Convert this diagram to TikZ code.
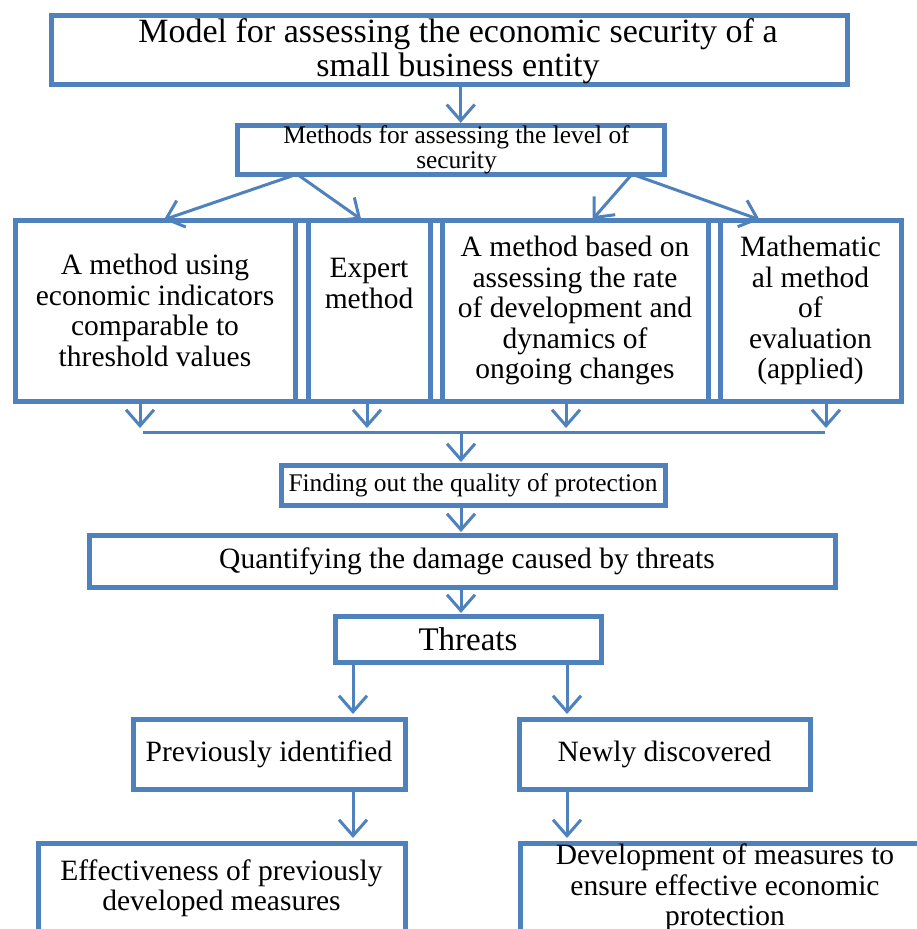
\documentclass[tikz,border=0pt]{standalone}
\usepackage{fontspec}
\setmainfont{Liberation Serif}
\usetikzlibrary{arrows.meta,positioning}
\definecolor{boxblue}{RGB}{79,129,189}
\newcommand{\fsTitle}{\fontsize{34}{33.5}\selectfont}
\newcommand{\fsSmall}{\fontsize{25.4}{25}\selectfont}
\newcommand{\fsText}{\fontsize{29.5}{30.5}\selectfont}
\newcommand{\fsThreat}{\fontsize{33}{33}\selectfont}
\begin{document}
\begin{tikzpicture}[x=1pt,y=-1pt,box/.style={draw=boxblue,line width=5pt,outer sep=0pt,inner sep=0pt,align=center,font=\fsText},
  conn/.style={draw=boxblue,line width=3pt,->,shorten >=3pt},>={Straight Barb[length=16pt,width=28pt]}]
\useasboundingbox (0,0) rectangle (917,929);
\node[box,font=\fsTitle,minimum width=796pt,minimum height=69pt,text depth=4pt] (model) at (449,49.5) {\hspace*{18pt}Model for assessing the economic security of a\\\hspace*{18pt}small business entity};
\node[box,font=\fsSmall,minimum width=427pt,minimum height=42pt] (methods) at (450.5,150) {\hspace*{12pt}Methods for assessing the level of\\\hspace*{12pt}security};
\node[box,minimum width=280pt,minimum height=181pt] (thr) at (155,310.5) {A method using\\economic indicators\\comparable to\\threshold values};
\node[box,minimum width=122pt,minimum height=181pt,text depth=54pt] (expert) at (369,310.5) {Expert\\method};
\node[box,minimum width=266pt,minimum height=181pt] (rate) at (575,310.5) {A method based on\\assessing the rate\\of development and\\dynamics of\\ongoing changes};
\node[box,minimum width=181pt,minimum height=181pt] (math) at (810.5,310.5) {Mathematic\\al method\\of\\evaluation\\(applied)};
\draw[boxblue,line width=5pt] (thr.north west) -- (math.north east) (thr.south west) -- (math.south east);
\node[box,font=\fsSmall,minimum width=384pt,minimum height=40pt] (quality) at (473,485) {Finding out the quality of protection};
\node[box,minimum width=746pt,minimum height=52pt] (damage) at (462,561) {\hspace*{10pt}Quantifying the damage caused by threats};
\node[box,font=\fsThreat,minimum width=266pt,minimum height=46pt] (threats) at (468,639) {Threats};
\node[box,minimum width=272pt,minimum height=70pt] (prev) at (269,754) {Previously identified};
\node[box,minimum width=291pt,minimum height=70pt] (newly) at (664.5,754) {Newly discovered};
\node[box,minimum width=367pt,minimum height=90pt] (effect) at (221.5,888) {Effectiveness of previously\\developed measures};
\node[box,minimum width=410pt,minimum height=90pt] (develop) at (725,888) {Development of measures to\\ensure effective economic\\protection};
\coordinate (t1) at ([xshift=11.7pt]model.south);
\draw[conn] (t1) -- (t1 |- methods.north);
\coordinate (mL) at ([xshift=60pt]methods.south west);
\coordinate (mR) at ([xshift=-32pt]methods.south east);
\draw[conn,shorten >=1pt] (mL) -- ([xshift=8pt]thr.north);
\draw[conn,shorten >=1pt] (mL) -- ([xshift=-7pt]expert.north);
\draw[conn,shorten >=1pt] (mR) -- ([xshift=17pt]rate.north);
\draw[conn,shorten >=1pt] (mR) -- ([xshift=-50pt]math.north);
\coordinate (busL) at (143,432);
\coordinate (busR) at (825,432);
\foreach \n/\s in {thr/-15,expert/-2,rate/-9,math/15.5}{
  \coordinate (\n d) at ([xshift=\s pt]\n.south);
  \draw[conn,shorten >=4pt] (\n d) -- (\n d |- busL);}
\draw[boxblue,line width=3pt] (busL) -- (busR);
\coordinate (q1) at ([xshift=-12pt]quality.north);
\draw[conn] (q1 |- busL) -- (q1);
\coordinate (q2) at ([xshift=-12pt]quality.south);
\draw[conn] (q2) -- (q2 |- damage.north);
\coordinate (d2) at ([xshift=-1pt]damage.south);
\draw[conn] (d2) -- (d2 |- threats.north);
\coordinate (p1) at ([xshift=84pt]prev.north);
\coordinate (n1) at ([xshift=-97.5pt]newly.north);
\coordinate (p2) at ([xshift=84pt]prev.south);
\coordinate (n2) at ([xshift=-97.5pt]newly.south);
\foreach \a/\b in {threats.south/p1,threats.south/n1}{\draw[conn,shorten >=5pt] (\b |- \a) -- (\b);}
\draw[conn,shorten >=5pt] (p2) -- (p2 |- effect.north);
\draw[conn,shorten >=5pt] (n2) -- (n2 |- develop.north);
\end{tikzpicture}
\end{document}
